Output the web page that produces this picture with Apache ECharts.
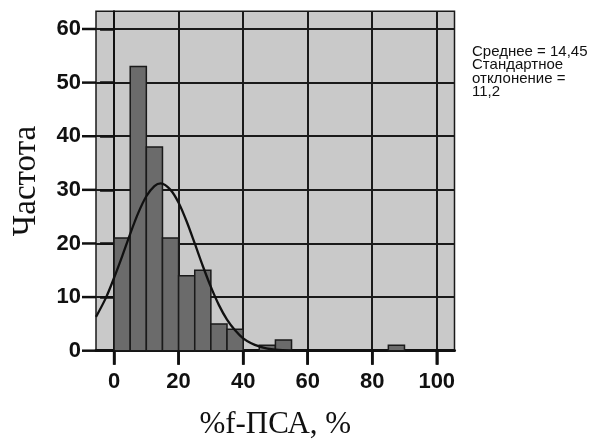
<!DOCTYPE html>
<html>
<head>
<meta charset="utf-8">
<script src="https://cdn.jsdelivr.net/npm/echarts@6/dist/echarts.min.js"></script>
<style>
html,body{margin:0;padding:0;background:#fff;}
#c{width:592px;height:439px;}
</style>
</head>
<body>
<div id="c"></div>
<script>
// Histogram bins (start of each 5-unit bin) and counts
const binStarts = [0, 5, 10, 15, 20, 25, 30, 35, 45, 50, 85];
const binWidth = 5;
const counts = [21, 53, 38, 21, 14, 15, 5, 4, 1, 2, 1];
// Normal curve
const curveX = [-5.6, -2.5, 0, 2.5, 5, 7.5, 10, 12.5, 14.5, 17.5, 20, 22.5, 25, 27.5, 30, 32.5, 35, 37.5, 40, 42.5, 45, 47.5, 50, 55, 60];
const curveY = [6.3, 9.9, 13.6, 17.6, 21.8, 25.7, 28.8, 30.7, 31.2, 30.0, 27.6, 24.1, 20.0, 15.8, 11.9, 8.5, 5.8, 3.8, 2.3, 1.4, 0.8, 0.4, 0.2, 0.05, 0];
const xTicks = [0, 20, 40, 60, 80, 100];
const yTicks = [0, 10, 20, 30, 40, 50, 60];
const xMin = -5.6, xMax = 105.5, yMin = 0, yMax = 63.3;
const xName = '%f-ПСА, %';
const yName = 'Частота';
const statsLines = ['Среднее = 14,45', 'Стандартное', 'отклонение =', '11,2'];

const barData = binStarts.map((s, i) => [s, s + binWidth, counts[i]]);
const curveData = curveX.map((x, i) => [x, curveY[i]]);

const chart = echarts.init(document.getElementById('c'), null, {renderer: 'canvas'});
const labelFont = {fontFamily: '"Liberation Sans", Arial, sans-serif', fontSize: 22, color: '#111', fontWeight: 'bold'};
chart.setOption({
  animation: false,
  grid: {left: 96, right: 137.5, top: 11.3, bottom: 88.3, containLabel: false, outerBoundsMode: 'none',
         show: true, backgroundColor: '#c9c9c9', borderColor: '#1a1a1a', borderWidth: 1.5},
  xAxis: {
    type: 'value', min: xMin, max: xMax, interval: 20,
    name: xName, nameLocation: 'middle', nameGap: 59,
    nameTextStyle: {fontFamily: '"Liberation Serif", "Times New Roman", serif', fontSize: 31, color: '#111'},
    axisLine: {show: true, onZero: false, lineStyle: {color: '#111', width: 3}},
    axisTick: {show: true, length: 14, customValues: xTicks, lineStyle: {color: '#111', width: 2.5}},
    axisLabel: Object.assign({margin: 20, customValues: xTicks}, labelFont),
    splitLine: {show: true, lineStyle: {color: '#1a1a1a', width: 2}}
  },
  yAxis: {
    type: 'value', min: yMin, max: yMax, interval: 10,
    name: yName, nameLocation: 'middle', nameGap: 53,
    nameTextStyle: {fontFamily: '"Liberation Serif", "Times New Roman", serif', fontSize: 33, color: '#111'},
    axisLine: {show: true, lineStyle: {color: '#111', width: 2}},
    axisTick: {show: true, length: 14, customValues: yTicks, lineStyle: {color: '#111', width: 2.5}},
    axisLabel: Object.assign({margin: 15, customValues: yTicks}, labelFont),
    splitLine: {show: true, lineStyle: {color: '#1a1a1a', width: 2}}
  },
  series: [
    {
      type: 'custom',
      data: barData,
      z: 3,
      renderItem: function (params, api) {
        const p0 = api.coord([api.value(0), api.value(2)]);
        const p1 = api.coord([api.value(1), 0]);
        return {
          type: 'rect',
          shape: {x: p0[0], y: p0[1], width: p1[0] - p0[0], height: p1[1] - p0[1]},
          style: {fill: '#6b6b6b', stroke: '#1a1a1a', lineWidth: 1.5}
        };
      }
    },
    {
      // x-axis tick marks at the tick values
      type: 'custom',
      data: xTicks.map(v => [v, yMin]),
      z: 5,
      clip: false,
      silent: true,
      renderItem: function (params, api) {
        const p = api.coord([api.value(0), api.value(1)]);
        return {type: 'line', shape: {x1: p[0], y1: p[1], x2: p[0], y2: p[1] + 14}, style: {stroke: '#111', lineWidth: 2.5}};
      }
    },
    {
      // y-axis tick marks at the tick values
      type: 'custom',
      data: yTicks.map(v => [xMin, v]),
      z: 5,
      clip: false,
      silent: true,
      renderItem: function (params, api) {
        const p = api.coord([api.value(0), api.value(1)]);
        return {type: 'line', shape: {x1: p[0], y1: p[1], x2: p[0] - 14, y2: p[1]}, style: {stroke: '#111', lineWidth: 2.5}};
      }
    },
    {
      type: 'line',
      data: curveData,
      z: 4,
      smooth: 0.3,
      showSymbol: false,
      symbol: 'none',
      clip: true,
      lineStyle: {color: '#111', width: 2.3}
    }
  ],
  graphic: [{
    type: 'text', left: 472, top: 44,
    style: {text: statsLines.join('\n'), fontFamily: '"Liberation Sans", Arial, sans-serif', fontSize: 15, lineHeight: 13.5, fill: '#111'}
  }]
});
</script>
</body>
</html>
